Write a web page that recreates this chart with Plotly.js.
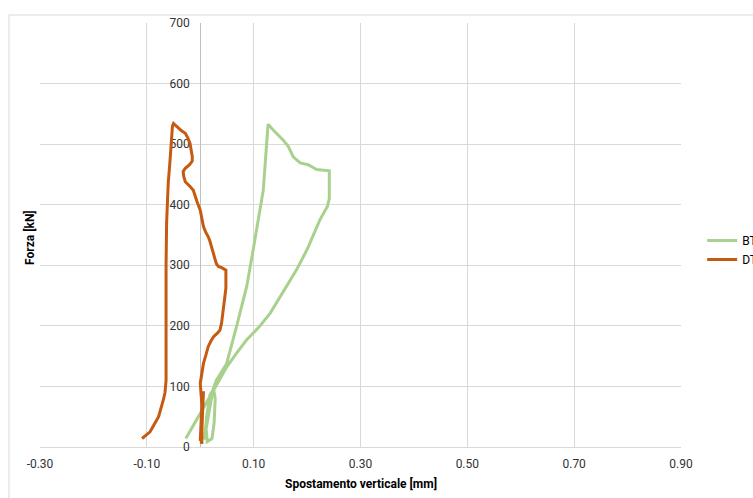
<!DOCTYPE html>
<html><head><meta charset="utf-8">
<script src="https://cdn.plot.ly/plotly-3.0.1.min.js"></script>
<style>html,body{margin:0;padding:0;background:#fff;overflow:hidden}#chart{width:753px;height:498px}</style>
</head><body><div id="chart"></div>
<script>
const seriesNames = ['BT1', 'DT1'];
const seriesColors = ['#a9d18e', '#c55a11'];

const btX = [0.008, 0.012, 0.018, 0.025, 0.028, 0.026, 0.022, 0.013, 0.011, 0.018, 0.024, 0.030, 0.037, 0.0495, 0.068, 0.087, 0.098, 0.108, 0.118, 0.123, 0.127, 0.137, 0.155, 0.165, 0.174, 0.187, 0.202, 0.218, 0.2416, 0.2416, 0.238, 0.224, 0.200, 0.180, 0.155, 0.131, 0.110, 0.087, 0.068, 0.0495, 0.031, 0.012, -0.008, -0.027];
const btY = [12, 50, 86, 96, 80, 40, 14, 9, 30, 65, 95, 110, 120, 138, 199, 265, 320, 375, 424, 485, 533, 523, 507, 496, 479, 469, 466, 458, 456, 410, 397, 375, 326, 292, 255, 221, 198, 177, 155, 132, 103, 74, 44, 14];

const dtX = [0.003, 0.004, 0.000, 0.006, 0.002, 0.003, 0.000, 0.003, 0.006, 0.010, 0.015, 0.020, 0.025, 0.032, 0.037, 0.040, 0.042, 0.044, 0.046, 0.048, 0.048, 0.048, 0.040, 0.034, 0.030, 0.028, 0.025, 0.022, 0.018, 0.015, 0.010, 0.006, 0.003, 0.000, -0.006, -0.013, -0.019, -0.028, -0.031, -0.032, -0.028, -0.020, -0.015, -0.015, -0.017, -0.019, -0.023, -0.028, -0.035, -0.042, -0.050, -0.052, -0.054, -0.057, -0.060, -0.062, -0.063, -0.064, -0.064, -0.064, -0.066, -0.069, -0.078, -0.094, -0.109];
const dtY = [5, 88, 10, 92, 6, 70, 105, 120, 138, 150, 166, 175, 182, 188, 193, 205, 221, 235, 248, 262, 281, 292, 296, 298, 303, 309, 320, 331, 340, 347, 355, 364, 375, 391, 405, 424, 430, 438, 447, 455, 460, 466, 472, 480, 490, 501, 510, 518, 522, 528, 534, 530, 501, 468, 435, 402, 369, 300, 200, 110, 90, 78, 50, 25, 14];

const xTickVals = [-0.3, -0.1, 0.1, 0.3, 0.5, 0.7, 0.9];
const xTickText = ['-0.30', '-0.10', '0.10', '0.30', '0.50', '0.70', '0.90'];
const yTickVals = [0, 100, 200, 300, 400, 500, 600, 700];
const xTitle = 'Spostamento verticale [mm]';
const yTitle = 'Forza [kN]';

const font = 'Roboto, "Open Sans", sans-serif';
const traces = [
  {x: btX, y: btY, name: seriesNames[0], mode: 'lines', line: {color: seriesColors[0], width: 3}},
  {x: dtX, y: dtY, name: seriesNames[1], mode: 'lines', line: {color: seriesColors[1], width: 3}}
];
const layout = {
  width: 753, height: 498,
  margin: {l: 40, r: 72, t: 23, b: 51, pad: 0, autoexpand: false},
  paper_bgcolor: '#fff', plot_bgcolor: '#fff',
  font: {family: font, size: 12, color: '#000'},
  showlegend: true,
  legend: {x: 1.033, y: 0.521, xanchor: 'left', yanchor: 'top', bgcolor: 'rgba(0,0,0,0)',
           font: {family: font, size: 12, color: '#000'}},
  xaxis: {range: [-0.3, 0.9], tickvals: xTickVals, ticktext: xTickText, showgrid: true,
          gridcolor: '#d9d9d9', gridwidth: 1, zeroline: false, showline: true, linecolor: '#d9d9d9',
          layer: 'below traces',
          ticks: '', ticklabelstandoff: 6, tickfont: {family: font, size: 12, color: '#333'}, fixedrange: true},
  yaxis: {range: [0, 700], tickvals: yTickVals, anchor: 'free', position: 0.25, showgrid: true,
          gridcolor: '#d9d9d9', gridwidth: 1, zeroline: false, showline: true, linecolor: '#bfbfbf',
          layer: 'below traces',
          ticks: '', ticklabelstandoff: 8, tickfont: {family: font, size: 12, color: '#333'}, fixedrange: true},
  shapes: [{type: 'rect', xref: 'paper', yref: 'paper', x0: -0.0484, x1: 2, y0: -1, y1: 1.0189,
            line: {color: '#d9d9d9', width: 1}, fillcolor: 'rgba(0,0,0,0)', layer: 'below'}],
  annotations: [
    {text: '<b>' + yTitle + '</b>', xref: 'paper', yref: 'paper', x: -0.0156, y: 0.493, textangle: -90,
     showarrow: false, xanchor: 'center', yanchor: 'middle', font: {family: font, size: 12, color: '#000'}},
    {text: '<b>' + xTitle + '</b>', xref: 'paper', yref: 'paper', x: 0.5008, y: -0.085,
     showarrow: false, xanchor: 'center', yanchor: 'middle', font: {family: font, size: 12, color: '#000'}}
  ]
};
Plotly.newPlot('chart', traces, layout, {displayModeBar: false, staticPlot: true});
</script></body></html>
